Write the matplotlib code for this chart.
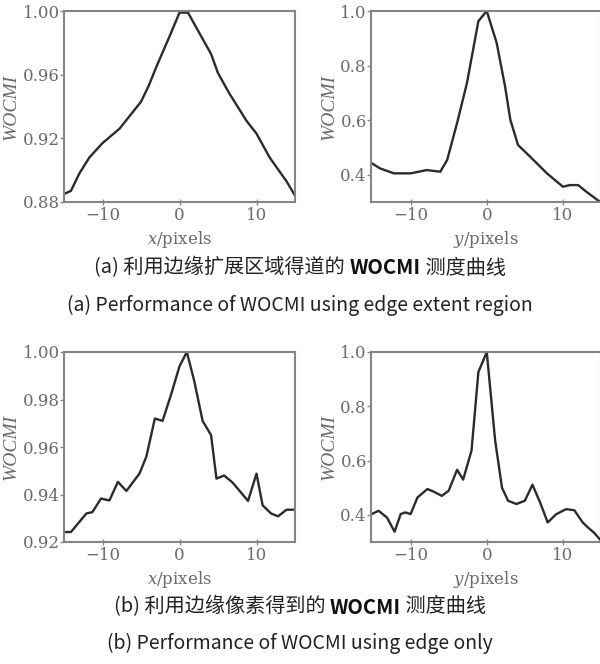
import matplotlib
matplotlib.use("Agg")
import matplotlib.pyplot as plt

plt.rcParams["mathtext.fontset"] = "dejavuserif"

# (a) edge extent region -- x direction
xa_x = [-15, -14.1, -13, -11.7, -10, -7.8, -5, -4, -3, -1.3, 0, 1.1, 2.6, 4.1, 5, 6.5, 8.7, 10, 11.7, 13.9, 15]
xa_y = [0.885, 0.887, 0.898, 0.908, 0.917, 0.926, 0.943, 0.953, 0.965, 0.984, 0.999, 0.999, 0.986, 0.973,
        0.961, 0.948, 0.931, 0.923, 0.908, 0.893, 0.884]
# (a) edge extent region -- y direction
ya_x = [-15.1, -14, -12.2, -10, -7.9, -6.1, -5.2, -3.9, -2.6, -1.1, 0, 1.3, 2.4, 3.1, 4.1, 5.7, 7.9, 10, 10.9,
        12, 13.1, 15]
ya_y = [0.442, 0.423, 0.405, 0.405, 0.417, 0.411, 0.454, 0.589, 0.736, 0.963, 1.0, 0.883, 0.724, 0.601, 0.509,
        0.466, 0.405, 0.356, 0.362, 0.362, 0.337, 0.298]
# (b) edge only -- x direction
xb_x = [-14.9, -14.1, -13.2, -12.1, -11.3, -10.2, -9.1, -8, -6.9, -5.2, -4.3, -3.2, -2.2, -1.1, 0, 0.95, 1.9,
        3, 4.1, 4.8, 5.8, 6.9, 8.9, 10, 10.8, 11.9, 12.8, 13.9, 15]
xb_y = [0.9242, 0.9242, 0.9277, 0.932, 0.9326, 0.9383, 0.9375, 0.9453, 0.9415, 0.9488, 0.956, 0.972, 0.971,
        0.982, 0.994, 1.0, 0.988, 0.971, 0.965, 0.9467, 0.948, 0.945, 0.9373, 0.9488, 0.9354, 0.932, 0.9308,
        0.9336, 0.9336]
# (b) edge only -- y direction
yb_x = [-15.1, -14.2, -13.1, -12.1, -11.3, -10.7, -10, -9.1, -7.8, -7, -5.9, -5, -3.9, -3.1, -2, -1.1, 0, 1.1,
        2, 2.8, 3.9, 5, 6, 7, 8, 9.1, 10.4, 11.5, 12.6, 13.3, 14.1, 15]
yb_y = [0.403, 0.415, 0.39, 0.338, 0.403, 0.409, 0.403, 0.464, 0.495, 0.486, 0.47, 0.489, 0.566, 0.53, 0.637,
        0.926, 1.0, 0.674, 0.5, 0.452, 0.44, 0.452, 0.511, 0.446, 0.372, 0.402, 0.421, 0.417, 0.372, 0.353,
        0.334, 0.305]

x_ticks = [-10, 0, 10]
yticks_xa = [0.88, 0.92, 0.96, 1.00]
yticks_xb = [0.92, 0.94, 0.96, 0.98, 1.00]
yticks_y = [0.4, 0.6, 0.8, 1.0]

captions = [
    ("(a) 利用边缘扩展区域得道的 ", "WOCMI", " 测度曲线", "(a) Performance of WOCMI using edge extent region"),
    ("(b) 利用边缘像素得到的 ", "WOCMI", " 测度曲线", "(b) Performance of WOCMI using edge only"),
]

W, H = 600, 664
fig = plt.figure(figsize=(6.0, 6.64), dpi=100)

grey = "#6a6a6a"
serif = ["DejaVu Serif"]
times = ["Liberation Serif", "DejaVu Serif"]


def make_ax(left, top, width, height):
    return fig.add_axes([left / W, 1 - (top + height) / H, width / W, height / H])


def style(ax, xs, ys, xlim, ylim, yticks, yfmt, xname):
    ax.plot(xs, ys, color="#2b2b2b", lw=1.7)
    ax.set_xlim(*xlim)
    ax.set_ylim(*ylim)
    ax.set_xticks(x_ticks)
    ax.set_xticklabels(["\u221210", "0", "10"])
    ax.set_yticks(yticks)
    ax.set_yticklabels([yfmt % v for v in yticks])
    for s in ax.spines.values():
        s.set_color("#858585")
        s.set_linewidth(1.5)
    ax.tick_params(axis="x", direction="inout", length=5, width=1, colors="#858585",
                   labelcolor=grey, labelsize=12, pad=1)
    ax.tick_params(axis="y", direction="out", length=3, width=1, colors="#858585",
                   labelcolor=grey, labelsize=12, pad=0)
    for lab in ax.get_xticklabels() + ax.get_yticklabels():
        lab.set_fontfamily(serif)
    ax.set_ylabel("WOCMI", fontsize=14, fontstyle="italic", fontfamily=times, color=grey, labelpad=2)
    ax.set_xlabel(xname, fontsize=12, fontfamily=serif, color=grey, labelpad=4)


ax1 = make_ax(64, 11, 231, 191)
style(ax1, xa_x, xa_y, (-15, 15), (0.88, 1.0), yticks_xa, "%.2f", "$x$/pixels")
ax2 = make_ax(371, 11, 230, 191)
style(ax2, ya_x, ya_y, (-15.2, 15), (0.3, 1.0), yticks_y, "%.1f", "$y$/pixels")
ax3 = make_ax(64, 352, 231, 190)
style(ax3, xb_x, xb_y, (-15, 15), (0.92, 1.0), yticks_xb, "%.2f", "$x$/pixels")
ax4 = make_ax(371, 352, 230, 190)
style(ax4, yb_x, yb_y, (-15.2, 15), (0.3, 1.0), yticks_y, "%.1f", "$y$/pixels")

cjk = ["Noto Sans CJK SC", "DejaVu Sans"]
for (pre, bold, post, eng), (y_cn, y_en) in zip(captions, [(268, 305), (607, 643)]):
    # Chinese caption with bold WOCMI, laid out piece by piece around the centre
    t1 = fig.text(0, 0, pre, fontsize=14.5, fontfamily=cjk, color="#222222")
    t2 = fig.text(0, 0, bold, fontsize=14.5, fontfamily=cjk, fontweight="bold", color="#111111")
    t3 = fig.text(0, 0, post, fontsize=14.5, fontfamily=cjk, color="#222222")
    fig.canvas.draw()
    r = fig.canvas.get_renderer()
    ws = [t.get_window_extent(r).width for t in (t1, t2, t3)]
    x0 = (W - sum(ws)) / 2
    for t, w in zip((t1, t2, t3), ws):
        t.set_position((x0 / W, 1 - y_cn / H))
        t.set_va("center")
        x0 += w
    fig.text(0.5, 1 - y_en / H, eng, fontsize=14, fontfamily=cjk, color="#222222",
             ha="center", va="center")

fig.savefig("out.png", dpi=100)
